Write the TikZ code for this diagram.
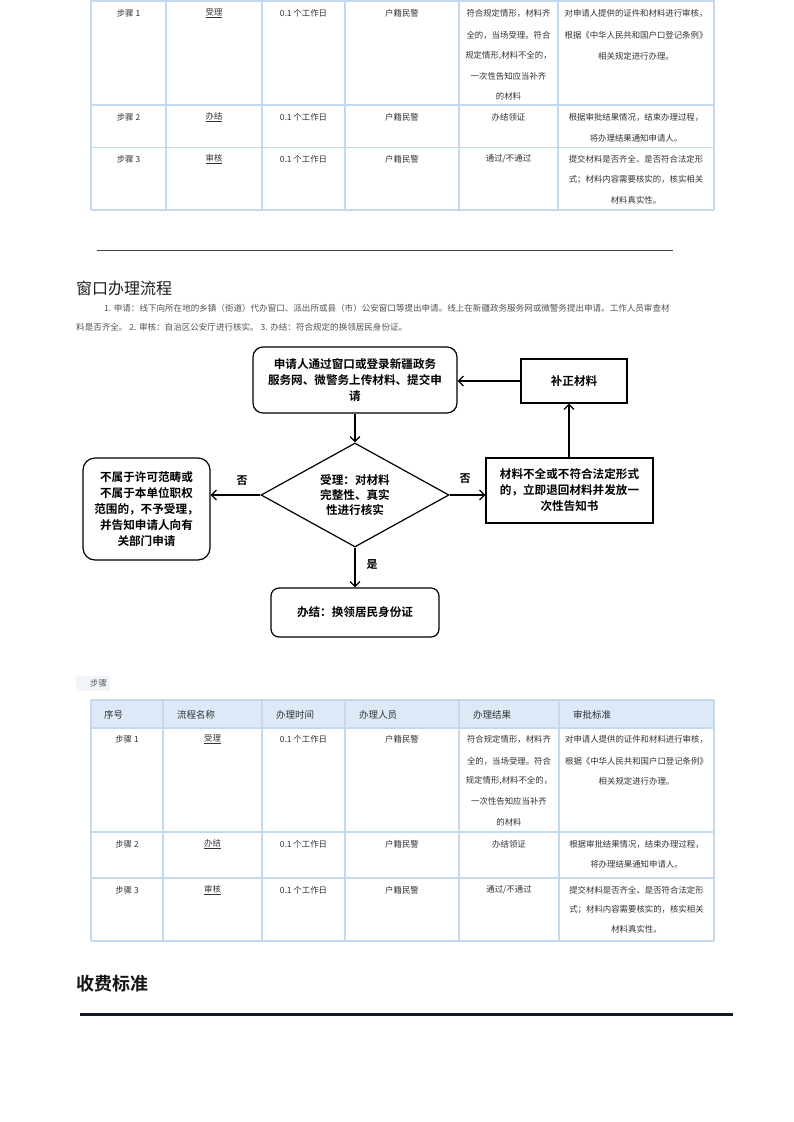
\documentclass[tikz,border=0pt]{standalone}
\usepackage{fontspec}
\newfontfamily\cjk{Noto Sans CJK SC}[BoldFont={Noto Sans CJK SC Bold}]
\usetikzlibrary{arrows.meta,shapes.geometric}
\definecolor{tbl}{HTML}{C5D9EE}
\definecolor{thead}{HTML}{DDE9F6}
\definecolor{txt}{HTML}{333333}
\definecolor{ruleA}{HTML}{3B4754}
\definecolor{ruleB}{HTML}{0F1B2B}
\definecolor{lblbg}{HTML}{F1F5F9}
\begin{document}
\begin{tikzpicture}[x=1pt,y=-1pt,
  cell/.style={font=\cjk\fontsize{8.4}{10}\selectfont, text=txt, inner sep=0pt, anchor=center},
  hcell/.style={font=\cjk\fontsize{9.5}{11}\selectfont, text=txt, inner sep=0pt, anchor=west},
  grid/.style={draw=tbl, line width=1.2pt},
  fbox/.style={draw=black, line width=1.2pt, font=\cjk\bfseries\fontsize{11.6}{16}\selectfont, align=center, inner sep=0pt},
  arr/.style={draw=black, line width=1.2pt, -{Straight Barb[length=5pt,width=10pt]}},
  flab/.style={font=\cjk\bfseries\fontsize{11}{13}\selectfont, inner sep=0pt},
  para/.style={font=\cjk\fontsize{8.55}{10}\selectfont, text=txt!85!white, inner sep=0pt, anchor=west}]
\fill[white] (0,0) rectangle (793,1122);
\useasboundingbox (0,0) rectangle (793,1122);

% ---------- top table ----------
\foreach \yy in {1,105,147.5,210} \draw[grid] (91,\yy) -- (714,\yy);
\foreach \xx in {91,166,262,345,459,558,714} \draw[grid] (\xx,0) -- (\xx,210);

\node[cell] (a11) at (128.5,13) {步骤 1};
\node[cell] (a12) at (214,13) {\underline{受理}};
\node[cell] (a13) at (303.5,13) {0.1 个工作日};
\node[cell] (a14) at (402,13) {户籍民警};
\node[cell] (a15a) at (508.5,13) {符合规定情形，材料齐};
\node[cell] (a15b) at (508.5,35) {全的，当场受理。符合};
\node[cell] (a15c) at (508.5,56) {规定情形,材料不全的，};
\node[cell] (a15d) at (508.5,76) {一次性告知应当补齐};
\node[cell] (a15e) at (508.5,96) {的材料};
\node[cell] (a16a) at (636,13) {对申请人提供的证件和材料进行审核，};
\node[cell] (a16b) at (636,35) {根据《中华人民共和国户口登记条例》};
\node[cell] (a16c) at (636,56) {相关规定进行办理。};

\node[cell] (a21) at (128.5,117) {步骤 2};
\node[cell] (a22) at (214,117) {\underline{办结}};
\node[cell] (a23) at (303.5,117) {0.1 个工作日};
\node[cell] (a24) at (402,117) {户籍民警};
\node[cell] (a25) at (508.5,117) {办结领证};
\node[cell] (a26a) at (636,117) {根据审批结果情况，结束办理过程，};
\node[cell] (a26b) at (636,138) {将办理结果通知申请人。};

\node[cell] (a31) at (128.5,159) {步骤 3};
\node[cell] (a32) at (214,159) {\underline{审核}};
\node[cell] (a33) at (303.5,159) {0.1 个工作日};
\node[cell] (a34) at (402,159) {户籍民警};
\node[cell] (a35) at (508.5,159) {通过/不通过};
\node[cell] (a36a) at (636,159) {提交材料是否齐全、是否符合法定形};
\node[cell] (a36b) at (636,180) {式；材料内容需要核实的，核实相关};
\node[cell] (a36c) at (636,200) {材料真实性。};

% ---------- rule ----------
\draw[ruleA, line width=1.5pt] (97,250.5) -- (673,250.5);

% ---------- heading + paragraph ----------
\node[anchor=west, inner sep=0pt, font=\cjk\fontsize{16}{18}\selectfont, text=black!88] (h1) at (76,288) {窗口办理流程};
\node[para] (p1) at (104,308) {1. 申请：线下向所在地的乡镇（街道）代办窗口、派出所或县（市）公安窗口等提出申请。线上在新疆政务服务网或微警务提出申请。工作人员审查材};
\node[para] (p2) at (76,327) {料是否齐全。 2. 审核：自治区公安厅进行核实。 3. 办结：符合规定的换领居民身份证。};

% ---------- flowchart ----------
\node[fbox, rounded corners=10pt, minimum width=204pt, minimum height=66pt] (top) at (355,380)
  {申请人通过窗口或登录新疆政务\\服务网、微警务上传材料、提交申\\请};
\node[fbox, minimum width=106pt, minimum height=44pt] (bz) at (574,381) {补正材料};
\node[draw=black, line width=1.2pt, diamond, inner sep=0pt, minimum width=188pt, minimum height=104pt] (dm) at (355,495) {};
\node[font=\cjk\bfseries\fontsize{11.6}{15}\selectfont, align=center, inner sep=0pt] (dmt) at (dm.center) {受理：对材料\\完整性、真实\\性进行核实};
\node[fbox, minimum width=167pt, minimum height=65pt] (rb) at (569.5,490.5)
  {材料不全或不符合法定形式\\的，立即退回材料并发放一\\次性告知书};
\node[fbox, rounded corners=12pt, minimum width=127pt, minimum height=102pt] (lb) at (146.5,509)
  {不属于许可范畴或\\不属于本单位职权\\范围的，不予受理，\\并告知申请人向有\\关部门申请};
\node[fbox, rounded corners=8pt, minimum width=168pt, minimum height=49pt] (fb) at (355,612.5)
  {办结：换领居民身份证};

\draw[arr] (top.south) -- (dm.north);
\draw[arr] (bz.west) -- (bz.west -| top.east);
\draw[arr] (dm.east) -- (dm.east -| rb.west);
\draw[arr] (rb.north -| 569,0) -- (569,0 |- bz.south);
\draw[arr] (dm.west) -- (dm.west -| lb.east);
\draw[arr] (dm.south) -- (dm.south |- fb.north);

\node[flab] (n1) at (242,481) {否};
\node[flab] (n2) at (465,479) {否};
\node[flab] (n3) at (372,565) {是};

% ---------- label ----------
\fill[lblbg] (76,676) rectangle (110,691);
\node[font=\cjk\fontsize{8.5}{10}\selectfont, text=txt!80!white, inner sep=0pt, anchor=west] (lbl) at (90,683.5) {步骤};

% ---------- bottom table ----------
\fill[thead] (91,700) rectangle (714,728);
\foreach \yy in {700,728,832,878,941} \draw[grid] (91,\yy) -- (714,\yy);
\foreach \xx in {91,163,262,345,459,559,714} \draw[grid] (\xx,700) -- (\xx,941);

\node[hcell] (h01) at (104,715) {序号};
\node[hcell] (h02) at (177,715) {流程名称};
\node[hcell] (h03) at (276,715) {办理时间};
\node[hcell] (h04) at (359,715) {办理人员};
\node[hcell] (h05) at (473,715) {办理结果};
\node[hcell] (h06) at (573,715) {审批标准};

\node[cell] (b11) at (127,739) {步骤 1};
\node[cell] (b12) at (212.5,739) {\underline{受理}};
\node[cell] (b13) at (303.5,739) {0.1 个工作日};
\node[cell] (b14) at (402,739) {户籍民警};
\node[cell] (b15a) at (509,739) {符合规定情形，材料齐};
\node[cell] (b15b) at (509,761) {全的，当场受理。符合};
\node[cell] (b15c) at (509,781) {规定情形,材料不全的，};
\node[cell] (b15d) at (509,801) {一次性告知应当补齐};
\node[cell] (b15e) at (509,822) {的材料};
\node[cell] (b16a) at (636.5,739) {对申请人提供的证件和材料进行审核，};
\node[cell] (b16b) at (636.5,761) {根据《中华人民共和国户口登记条例》};
\node[cell] (b16c) at (636.5,781) {相关规定进行办理。};

\node[cell] (b21) at (127,844) {步骤 2};
\node[cell] (b22) at (212.5,844) {\underline{办结}};
\node[cell] (b23) at (303.5,844) {0.1 个工作日};
\node[cell] (b24) at (402,844) {户籍民警};
\node[cell] (b25) at (509,844) {办结领证};
\node[cell] (b26a) at (636.5,844) {根据审批结果情况，结束办理过程，};
\node[cell] (b26b) at (636.5,864) {将办理结果通知申请人。};

\node[cell] (b31) at (127,890) {步骤 3};
\node[cell] (b32) at (212.5,890) {\underline{审核}};
\node[cell] (b33) at (303.5,890) {0.1 个工作日};
\node[cell] (b34) at (402,890) {户籍民警};
\node[cell] (b35) at (509,890) {通过/不通过};
\node[cell] (b36a) at (636.5,890) {提交材料是否齐全、是否符合法定形};
\node[cell] (b36b) at (636.5,910) {式；材料内容需要核实的，核实相关};
\node[cell] (b36c) at (636.5,929) {材料真实性。};

% ---------- fee heading ----------
\node[anchor=west, inner sep=0pt, font=\cjk\bfseries\fontsize{18}{20}\selectfont, text=black!92] (h2) at (76,984) {收费标准};
\draw[ruleB, line width=3pt] (80,1014) -- (733,1014);
\end{tikzpicture}
\end{document}
